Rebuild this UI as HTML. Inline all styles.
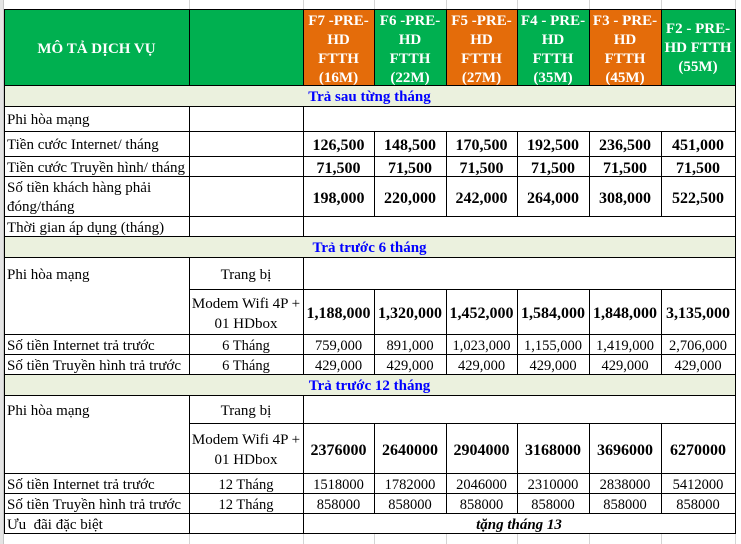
<!DOCTYPE html>
<html><head><meta charset="utf-8">
<style>
*{margin:0;padding:0;box-sizing:border-box}
html,body{width:741px;height:544px;overflow:hidden;background:#fff}
#c{position:relative;width:741px;height:544px;overflow:hidden;background:#fff;font-family:"Liberation Serif","Noto Serif CJK SC",serif;color:#000}
.bg{position:absolute}
.h{position:absolute;height:1px;background:#000}
.v{position:absolute;width:1px;background:#000}
.g{position:absolute;width:1px;background:#d4d4d4}
.t{position:absolute;display:flex;align-items:center;white-space:nowrap;line-height:19px;font-size:15px;transform:translateY(2px)}
.l{padding-left:3px}
.c{justify-content:center;text-align:center}
.b{font-weight:bold;font-size:16px}
.n{font-size:14.5px}
.s{font-weight:bold;color:#0000ff;font-size:15px}
.hd{position:absolute;color:#fff;font-weight:bold;font-size:15px;line-height:19px;text-align:center;white-space:nowrap}
</style></head><body><div id="c">

<!-- left strip -->
<div class="bg" style="left:0;top:0;width:3px;height:544px;background:#e4e4e4"></div>
<div class="bg" style="left:3px;top:0;width:1px;height:544px;background:#c6c6c6"></div>

<!-- gray gridlines top / bottom -->
<div class="g" style="left:189px;top:0;height:9px"></div>
<div class="g" style="left:303px;top:0;height:9px"></div>
<div class="g" style="left:374px;top:0;height:9px"></div>
<div class="g" style="left:446px;top:0;height:9px"></div>
<div class="g" style="left:517px;top:0;height:9px"></div>
<div class="g" style="left:589px;top:0;height:9px"></div>
<div class="g" style="left:661px;top:0;height:9px"></div>
<div class="g" style="left:735px;top:0;height:9px"></div>
<div class="g" style="left:189px;top:534px;height:10px"></div>
<div class="g" style="left:303px;top:534px;height:10px"></div>
<div class="g" style="left:374px;top:534px;height:10px"></div>
<div class="g" style="left:446px;top:534px;height:10px"></div>
<div class="g" style="left:517px;top:534px;height:10px"></div>
<div class="g" style="left:589px;top:534px;height:10px"></div>
<div class="g" style="left:661px;top:534px;height:10px"></div>
<div class="g" style="left:735px;top:534px;height:10px"></div>

<!-- header backgrounds -->
<div class="bg" style="left:4px;top:9px;width:731px;height:76px;background:#00b050"></div>
<div class="bg" style="left:303px;top:9px;width:71px;height:76px;background:#e46c0a"></div>
<div class="bg" style="left:446px;top:9px;width:71px;height:76px;background:#e46c0a"></div>
<div class="bg" style="left:589px;top:9px;width:72px;height:76px;background:#e46c0a"></div>

<!-- section backgrounds -->
<div class="bg" style="left:4px;top:85px;width:731px;height:21px;background:#ebf1de"></div>
<div class="bg" style="left:4px;top:236px;width:731px;height:21px;background:#ebf1de"></div>
<div class="bg" style="left:4px;top:374px;width:731px;height:21px;background:#ebf1de"></div>

<!-- horizontal black lines -->
<div class="h" style="left:4px;top:9px;width:732px"></div>
<div class="h" style="left:4px;top:85px;width:732px"></div>
<div class="h" style="left:4px;top:106px;width:732px"></div>
<div class="h" style="left:4px;top:131px;width:732px"></div>
<div class="h" style="left:4px;top:156px;width:732px"></div>
<div class="h" style="left:4px;top:176px;width:732px"></div>
<div class="h" style="left:4px;top:216px;width:732px"></div>
<div class="h" style="left:4px;top:236px;width:732px"></div>
<div class="h" style="left:4px;top:257px;width:732px"></div>
<div class="h" style="left:189px;top:289px;width:547px"></div>
<div class="h" style="left:4px;top:334px;width:732px"></div>
<div class="h" style="left:4px;top:354px;width:732px"></div>
<div class="h" style="left:4px;top:374px;width:732px"></div>
<div class="h" style="left:4px;top:395px;width:732px"></div>
<div class="h" style="left:189px;top:423px;width:547px"></div>
<div class="h" style="left:4px;top:473px;width:732px"></div>
<div class="h" style="left:4px;top:493px;width:732px"></div>
<div class="h" style="left:4px;top:513px;width:732px"></div>
<div class="h" style="left:4px;top:533px;width:732px"></div>

<!-- vertical outer -->
<div class="v" style="left:4px;top:9px;height:525px"></div>
<div class="v" style="left:735px;top:9px;height:525px"></div>

<!-- vertical x=189, 303 -->
<div class="v" style="left:189px;top:9px;height:76px"></div>
<div class="v" style="left:189px;top:106px;height:130px"></div>
<div class="v" style="left:189px;top:257px;height:117px"></div>
<div class="v" style="left:189px;top:395px;height:138px"></div>
<div class="v" style="left:303px;top:9px;height:76px"></div>
<div class="v" style="left:303px;top:106px;height:130px"></div>
<div class="v" style="left:303px;top:257px;height:117px"></div>
<div class="v" style="left:303px;top:395px;height:138px"></div>

<!-- vertical value columns -->
<div class="v" style="left:374px;top:9px;height:76px"></div>
<div class="v" style="left:374px;top:131px;height:85px"></div>
<div class="v" style="left:374px;top:289px;height:85px"></div>
<div class="v" style="left:374px;top:423px;height:90px"></div>
<div class="v" style="left:446px;top:9px;height:76px"></div>
<div class="v" style="left:446px;top:131px;height:85px"></div>
<div class="v" style="left:446px;top:289px;height:85px"></div>
<div class="v" style="left:446px;top:423px;height:90px"></div>
<div class="v" style="left:517px;top:9px;height:76px"></div>
<div class="v" style="left:517px;top:131px;height:85px"></div>
<div class="v" style="left:517px;top:289px;height:85px"></div>
<div class="v" style="left:517px;top:423px;height:90px"></div>
<div class="v" style="left:589px;top:9px;height:76px"></div>
<div class="v" style="left:589px;top:131px;height:85px"></div>
<div class="v" style="left:589px;top:289px;height:85px"></div>
<div class="v" style="left:589px;top:423px;height:90px"></div>
<div class="v" style="left:661px;top:9px;height:76px"></div>
<div class="v" style="left:661px;top:131px;height:85px"></div>
<div class="v" style="left:661px;top:289px;height:85px"></div>
<div class="v" style="left:661px;top:423px;height:90px"></div>

<!-- header text -->
<div class="t c" style="left:4px;top:9px;width:185px;height:76px;color:#fff;font-weight:bold;font-size:15px">MÔ TẢ DỊCH VỤ</div>
<div class="hd" style="left:303px;top:12px;width:71px">F7 -PRE-<br>HD<br>FTTH<br>(16M)</div>
<div class="hd" style="left:374px;top:12px;width:72px">F6 -PRE-<br>HD<br>FTTH<br>(22M)</div>
<div class="hd" style="left:446px;top:12px;width:71px">F5 -PRE-<br>HD<br>FTTH<br>(27M)</div>
<div class="hd" style="left:517px;top:12px;width:72px">F4 - PRE-<br>HD<br>FTTH<br>(35M)</div>
<div class="hd" style="left:589px;top:12px;width:72px">F3 - PRE-<br>HD<br>FTTH<br>(45M)</div>
<div class="hd" style="left:661px;top:20px;width:74px">F2 - PRE-<br>HD FTTH<br>(55M)</div>

<!-- Section 1 -->
<div class="t c s" style="left:4px;top:85px;width:731px;height:21px">Trả sau từng tháng</div>
<div class="t l" style="left:4px;top:106px;width:185px;height:25px">Phi hòa mạng</div>

<div class="t l" style="left:4px;top:131px;width:185px;height:25px">Tiền cước Internet/ tháng</div>
<div class="t c b" style="left:303px;top:131px;width:71px;height:25px">126,500</div>
<div class="t c b" style="left:374px;top:131px;width:72px;height:25px">148,500</div>
<div class="t c b" style="left:446px;top:131px;width:71px;height:25px">170,500</div>
<div class="t c b" style="left:517px;top:131px;width:72px;height:25px">192,500</div>
<div class="t c b" style="left:589px;top:131px;width:72px;height:25px">236,500</div>
<div class="t c b" style="left:661px;top:131px;width:74px;height:25px">451,000</div>

<div class="t l" style="left:4px;top:156px;width:185px;height:20px">Tiền cước Truyền hình/ tháng</div>
<div class="t c b" style="left:303px;top:156px;width:71px;height:20px">71,500</div>
<div class="t c b" style="left:374px;top:156px;width:72px;height:20px">71,500</div>
<div class="t c b" style="left:446px;top:156px;width:71px;height:20px">71,500</div>
<div class="t c b" style="left:517px;top:156px;width:72px;height:20px">71,500</div>
<div class="t c b" style="left:589px;top:156px;width:72px;height:20px">71,500</div>
<div class="t c b" style="left:661px;top:156px;width:74px;height:20px">71,500</div>

<div class="t l" style="left:4px;top:176px;width:185px;height:40px">Số tiền khách hàng phải<br>đóng/tháng</div>
<div class="t c b" style="left:303px;top:176px;width:71px;height:40px">198,000</div>
<div class="t c b" style="left:374px;top:176px;width:72px;height:40px">220,000</div>
<div class="t c b" style="left:446px;top:176px;width:71px;height:40px">242,000</div>
<div class="t c b" style="left:517px;top:176px;width:72px;height:40px">264,000</div>
<div class="t c b" style="left:589px;top:176px;width:72px;height:40px">308,000</div>
<div class="t c b" style="left:661px;top:176px;width:74px;height:40px">522,500</div>

<div class="t l" style="left:4px;top:216px;width:185px;height:20px">Thời gian áp dụng (tháng)</div>

<!-- Section 2 -->
<div class="t c s" style="left:4px;top:236px;width:731px;height:21px">Trả trước 6 tháng</div>
<div class="t l" style="left:4px;top:257px;width:185px;height:32px">Phi hòa mạng</div>
<div class="t c" style="left:189px;top:257px;width:114px;height:32px">Trang bị</div>

<div class="t c" style="left:189px;top:289px;width:114px;height:45px;line-height:20px">Modem Wifi 4P +<br>01 HDbox</div>
<div class="t c b" style="left:303px;top:289px;width:71px;height:45px">1,188,000</div>
<div class="t c b" style="left:374px;top:289px;width:72px;height:45px">1,320,000</div>
<div class="t c b" style="left:446px;top:289px;width:71px;height:45px">1,452,000</div>
<div class="t c b" style="left:517px;top:289px;width:72px;height:45px">1,584,000</div>
<div class="t c b" style="left:589px;top:289px;width:72px;height:45px">1,848,000</div>
<div class="t c b" style="left:661px;top:289px;width:74px;height:45px">3,135,000</div>

<div class="t l" style="left:4px;top:334px;width:185px;height:20px">Số tiền Internet trả trước</div>
<div class="t c n" style="left:189px;top:334px;width:114px;height:20px">6 Tháng</div>
<div class="t c n" style="left:303px;top:334px;width:71px;height:20px">759,000</div>
<div class="t c n" style="left:374px;top:334px;width:72px;height:20px">891,000</div>
<div class="t c n" style="left:446px;top:334px;width:71px;height:20px">1,023,000</div>
<div class="t c n" style="left:517px;top:334px;width:72px;height:20px">1,155,000</div>
<div class="t c n" style="left:589px;top:334px;width:72px;height:20px">1,419,000</div>
<div class="t c n" style="left:661px;top:334px;width:74px;height:20px">2,706,000</div>

<div class="t l" style="left:4px;top:354px;width:185px;height:20px">Số tiền Truyền hình trả trước</div>
<div class="t c n" style="left:189px;top:354px;width:114px;height:20px">6 Tháng</div>
<div class="t c n" style="left:303px;top:354px;width:71px;height:20px">429,000</div>
<div class="t c n" style="left:374px;top:354px;width:72px;height:20px">429,000</div>
<div class="t c n" style="left:446px;top:354px;width:71px;height:20px">429,000</div>
<div class="t c n" style="left:517px;top:354px;width:72px;height:20px">429,000</div>
<div class="t c n" style="left:589px;top:354px;width:72px;height:20px">429,000</div>
<div class="t c n" style="left:661px;top:354px;width:74px;height:20px">429,000</div>

<!-- Section 3 -->
<div class="t c s" style="left:4px;top:374px;width:731px;height:21px">Trả trước 12 tháng</div>
<div class="t l" style="left:4px;top:395px;width:185px;height:28px">Phi hòa mạng</div>
<div class="t c" style="left:189px;top:395px;width:114px;height:28px">Trang bị</div>

<div class="t c" style="left:189px;top:423px;width:114px;height:50px;line-height:20px">Modem Wifi 4P +<br>01 HDbox</div>
<div class="t c b" style="left:303px;top:423px;width:71px;height:50px">2376000</div>
<div class="t c b" style="left:374px;top:423px;width:72px;height:50px">2640000</div>
<div class="t c b" style="left:446px;top:423px;width:71px;height:50px">2904000</div>
<div class="t c b" style="left:517px;top:423px;width:72px;height:50px">3168000</div>
<div class="t c b" style="left:589px;top:423px;width:72px;height:50px">3696000</div>
<div class="t c b" style="left:661px;top:423px;width:74px;height:50px">6270000</div>

<div class="t l" style="left:4px;top:473px;width:185px;height:20px">Số tiền Internet trả trước</div>
<div class="t c n" style="left:189px;top:473px;width:114px;height:20px">12 Tháng</div>
<div class="t c n" style="left:303px;top:473px;width:71px;height:20px">1518000</div>
<div class="t c n" style="left:374px;top:473px;width:72px;height:20px">1782000</div>
<div class="t c n" style="left:446px;top:473px;width:71px;height:20px">2046000</div>
<div class="t c n" style="left:517px;top:473px;width:72px;height:20px">2310000</div>
<div class="t c n" style="left:589px;top:473px;width:72px;height:20px">2838000</div>
<div class="t c n" style="left:661px;top:473px;width:74px;height:20px">5412000</div>

<div class="t l" style="left:4px;top:493px;width:185px;height:20px">Số tiền Truyền hình trả trước</div>
<div class="t c n" style="left:189px;top:493px;width:114px;height:20px">12 Tháng</div>
<div class="t c n" style="left:303px;top:493px;width:71px;height:20px">858000</div>
<div class="t c n" style="left:374px;top:493px;width:72px;height:20px">858000</div>
<div class="t c n" style="left:446px;top:493px;width:71px;height:20px">858000</div>
<div class="t c n" style="left:517px;top:493px;width:72px;height:20px">858000</div>
<div class="t c n" style="left:589px;top:493px;width:72px;height:20px">858000</div>
<div class="t c n" style="left:661px;top:493px;width:74px;height:20px">858000</div>

<div class="t l" style="left:4px;top:513px;width:185px;height:20px">Ưu&nbsp; đãi đặc biệt</div>
<div class="t c" style="left:303px;top:513px;width:432px;height:20px;font-weight:bold;font-style:italic">tặng tháng 13</div>

</div></body></html>
